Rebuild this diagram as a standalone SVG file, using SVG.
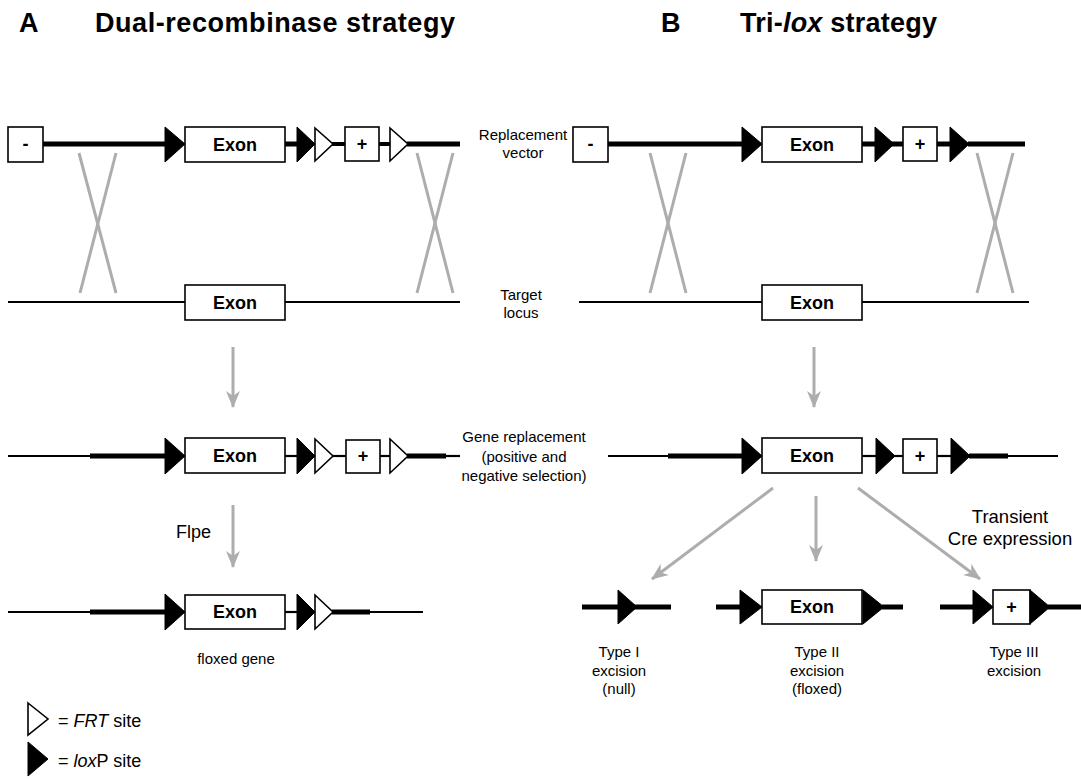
<svg xmlns="http://www.w3.org/2000/svg" width="1081" height="780" viewBox="0 0 1081 780">
<style>
.thick{stroke:#000;stroke-width:5;fill:none}
.mid{stroke:#000;stroke-width:4;fill:none}
.thin{stroke:#000;stroke-width:2.2;fill:none}
.box{fill:#fff;stroke:#000;stroke-width:1.6}
.lox{fill:#000;stroke:#000;stroke-width:1}
.frt{fill:#fff;stroke:#000;stroke-width:1.6}
.t{font-family:"Liberation Sans",Arial,Helvetica,sans-serif;fill:#000}
.ex{font-family:"Liberation Sans",Arial,Helvetica,sans-serif;font-weight:bold;font-size:18px;text-anchor:middle;fill:#000}
.lbl{font-family:"Liberation Sans",Arial,Helvetica,sans-serif;font-size:15px;text-anchor:middle;fill:#000}
.gray{stroke:#adadad;stroke-width:3;fill:none}
.title{font-family:"Liberation Sans",Arial,Helvetica,sans-serif;font-weight:bold;font-size:27px;fill:#000}
</style>
<defs>
<marker id="ah" markerUnits="userSpaceOnUse" markerWidth="18" markerHeight="14" refX="16" refY="7" orient="auto">
<path d="M0,0 L17,7 L0,14 L5,7 z" fill="#adadad"/>
</marker>
</defs>

<g id="titles">
<text class="title" x="19" y="32">A</text>
<text class="title" x="95" y="32" textLength="360" lengthAdjust="spacing">Dual-recombinase strategy</text>
<text class="title" x="661" y="32">B</text>
<text class="title" x="740" y="32" textLength="197" lengthAdjust="spacing">Tri-<tspan font-style="italic">lox</tspan> strategy</text>
</g>

<g id="connectors">
<line class="gray" x1="79" y1="153" x2="116" y2="293"/>
<line class="gray" x1="116" y1="153" x2="80" y2="293"/>
<line class="gray" x1="417" y1="153" x2="453" y2="293"/>
<line class="gray" x1="453" y1="153" x2="417" y2="293"/>
<line class="gray" x1="650" y1="153" x2="686" y2="293"/>
<line class="gray" x1="686" y1="153" x2="650" y2="293"/>
<line class="gray" x1="977" y1="153" x2="1013" y2="293"/>
<line class="gray" x1="1013" y1="153" x2="977" y2="293"/>
<line class="gray" x1="233" y1="347" x2="233" y2="407" marker-end="url(#ah)"/>
<line class="gray" x1="233" y1="505" x2="233" y2="567" marker-end="url(#ah)"/>
<line class="gray" x1="814" y1="347" x2="814" y2="407" marker-end="url(#ah)"/>
<line class="gray" x1="816" y1="496" x2="816" y2="561" marker-end="url(#ah)"/>
<line class="gray" x1="773" y1="488" x2="652" y2="579" marker-end="url(#ah)"/>
<line class="gray" x1="858" y1="488" x2="980" y2="579" marker-end="url(#ah)"/>
</g>

<g id="A-vector">
<line class="thick" x1="43" y1="144" x2="166" y2="144"/>
<line class="thick" x1="284" y1="144" x2="298" y2="144"/>
<line class="mid" x1="332" y1="144" x2="346" y2="144"/>
<line class="mid" x1="378" y1="144" x2="391" y2="144"/>
<line class="thick" x1="407" y1="144" x2="460" y2="144"/>
<rect class="box" x="8" y="127" width="35" height="35"/>
<text class="ex" x="25.5" y="150">-</text>
<polygon class="lox" points="165,127 185,144 165,162"/>
<rect class="box" x="185" y="127" width="100" height="35"/>
<text class="ex" x="235" y="151">Exon</text>
<polygon class="lox" points="297,127 315,144 297,162"/>
<polygon class="frt" points="315,128 333,144 315,161"/>
<rect class="box" x="345" y="127" width="34" height="34"/>
<text class="ex" x="362" y="150">+</text>
<polygon class="frt" points="390,128 408,144 390,161"/>
</g>

<g id="A-target">
<line class="thin" x1="8" y1="302" x2="460" y2="302"/>
<rect class="box" x="185" y="285" width="100" height="35"/>
<text class="ex" x="235" y="309">Exon</text>
</g>

<g id="A-replaced">
<line class="thin" x1="8" y1="456" x2="91" y2="456"/>
<line class="thick" x1="90" y1="456" x2="166" y2="456"/>
<line class="thin" x1="284" y1="456" x2="298" y2="456"/>
<line class="thin" x1="332" y1="456" x2="347" y2="456"/>
<line class="thin" x1="379" y1="456" x2="391" y2="456"/>
<line class="thick" x1="407" y1="456" x2="446" y2="456"/>
<line class="thin" x1="445" y1="456" x2="460" y2="456"/>
<polygon class="lox" points="165,438 185,456 165,474"/>
<rect class="box" x="185" y="438" width="100" height="35"/>
<text class="ex" x="235" y="462">Exon</text>
<polygon class="lox" points="297,438 315,456 297,474"/>
<polygon class="frt" points="315,439 333,456 315,473"/>
<rect class="box" x="346" y="440" width="34" height="33"/>
<text class="ex" x="363" y="462">+</text>
<polygon class="frt" points="390,439 408,456 390,473"/>
</g>

<g id="A-floxed">
<line class="thin" x1="8" y1="612" x2="91" y2="612"/>
<line class="thick" x1="90" y1="612" x2="166" y2="612"/>
<line class="thin" x1="284" y1="612" x2="298" y2="612"/>
<line class="thick" x1="332" y1="612" x2="370" y2="612"/>
<line class="thin" x1="369" y1="612" x2="423" y2="612"/>
<polygon class="lox" points="165,594 185,612 165,630"/>
<rect class="box" x="185" y="595" width="100" height="34"/>
<text class="ex" x="235" y="618">Exon</text>
<polygon class="lox" points="297,594 315,612 297,630"/>
<polygon class="frt" points="315,595 333,612 315,629"/>
<text class="lbl" x="236" y="664">floxed gene</text>
</g>

<g id="row-labels">
<text class="lbl" x="523" y="140">Replacement</text>
<text class="lbl" x="523" y="158">vector</text>
<text class="lbl" x="521" y="300">Target</text>
<text class="lbl" x="521" y="318">locus</text>
<text class="lbl" x="524" y="442">Gene replacement</text>
<text class="lbl" x="524" y="462">(positive and</text>
<text class="lbl" x="524" y="481">negative selection)</text>
<text class="t" x="176" y="538" font-size="18">Flpe</text>
<text class="t" x="1010" y="523" font-size="18.5" text-anchor="middle">Transient</text>
<text class="t" x="1010" y="545" font-size="18.5" text-anchor="middle">Cre expression</text>
</g>

<g id="B-vector">
<line class="thick" x1="608" y1="144" x2="743" y2="144"/>
<line class="thick" x1="861" y1="144" x2="904" y2="144"/>
<line class="thick" x1="936" y1="144" x2="951" y2="144"/>
<line class="thick" x1="968" y1="144" x2="1025" y2="144"/>
<rect class="box" x="573" y="127" width="35" height="35"/>
<text class="ex" x="590.5" y="150">-</text>
<polygon class="lox" points="742,127 762,144 742,162"/>
<rect class="box" x="762" y="127" width="100" height="35"/>
<text class="ex" x="812" y="151">Exon</text>
<polygon class="lox" points="875,127 894,144 875,162"/>
<rect class="box" x="903" y="127" width="34" height="34"/>
<text class="ex" x="920" y="150">+</text>
<polygon class="lox" points="950,127 969,144 950,162"/>
</g>

<g id="B-target">
<line class="thin" x1="579" y1="302" x2="1029" y2="302"/>
<rect class="box" x="762" y="285" width="100" height="35"/>
<text class="ex" x="812" y="309">Exon</text>
</g>

<g id="B-replaced">
<line class="thin" x1="608" y1="456" x2="669" y2="456"/>
<line class="thick" x1="668" y1="456" x2="743" y2="456"/>
<line class="thin" x1="861" y1="456" x2="877" y2="456"/>
<line class="thin" x1="894" y1="456" x2="904" y2="456"/>
<line class="thin" x1="936" y1="456" x2="952" y2="456"/>
<line class="thick" x1="969" y1="456" x2="1008" y2="456"/>
<line class="thin" x1="1007" y1="456" x2="1058" y2="456"/>
<polygon class="lox" points="742,438 762,456 742,474"/>
<rect class="box" x="762" y="438" width="100" height="35"/>
<text class="ex" x="812" y="462">Exon</text>
<polygon class="lox" points="876,438 895,456 876,474"/>
<rect class="box" x="903" y="439" width="34" height="34"/>
<text class="ex" x="920" y="462">+</text>
<polygon class="lox" points="951,438 970,456 951,474"/>
</g>

<g id="B-type1">
<line class="thick" x1="582" y1="607" x2="671" y2="607"/>
<polygon class="lox" points="618,590 637,607 618,624"/>
<text class="lbl" x="619" y="657">Type I</text>
<text class="lbl" x="619" y="676">excision</text>
<text class="lbl" x="619" y="694">(null)</text>
</g>

<g id="B-type2">
<line class="thick" x1="716" y1="607" x2="742" y2="607"/>
<line class="thick" x1="882" y1="607" x2="903" y2="607"/>
<polygon class="lox" points="740,590 762,607 740,624"/>
<rect class="box" x="762" y="590" width="100" height="34"/>
<text class="ex" x="812" y="613">Exon</text>
<polygon class="lox" points="863,590 884,607 863,624"/>
<text class="lbl" x="817" y="657">Type II</text>
<text class="lbl" x="817" y="676">excision</text>
<text class="lbl" x="817" y="694">(floxed)</text>
</g>

<g id="B-type3">
<line class="thick" x1="940" y1="607" x2="975" y2="607"/>
<line class="thick" x1="1048" y1="607" x2="1081" y2="607"/>
<polygon class="lox" points="973,590 993,607 973,624"/>
<rect class="box" x="993" y="590" width="37" height="34"/>
<text class="ex" x="1011.5" y="613">+</text>
<polygon class="lox" points="1030,590 1050,607 1030,624"/>
<text class="lbl" x="1014" y="657">Type III</text>
<text class="lbl" x="1014" y="676">excision</text>
</g>

<g id="legend">
<polygon class="frt" points="28,703 48,719 28,735"/>
<text class="t" x="58" y="727" font-size="18">= <tspan font-style="italic">FRT</tspan> site</text>
<polygon class="lox" points="28,742 48,759 28,776"/>
<text class="t" x="58" y="767" font-size="18">= <tspan font-style="italic">lox</tspan>P site</text>
</g>
</svg>
